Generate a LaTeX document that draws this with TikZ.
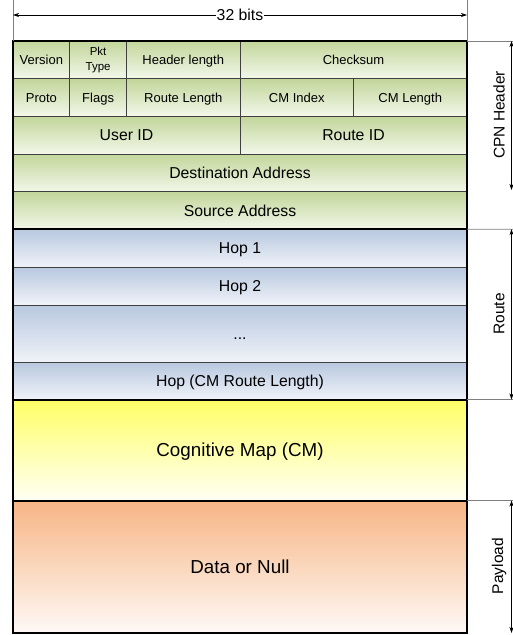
\documentclass[tikz,border=0pt]{standalone}
\usepackage{fontspec}
\setmainfont{Liberation Sans}
\usetikzlibrary{arrows.meta}
\definecolor{hdrtop}{HTML}{C2D69A}
\definecolor{hdrbot}{HTML}{F3F7EA}
\definecolor{rtetop}{HTML}{B8C8DF}
\definecolor{rtebot}{HTML}{F0F3F9}
\definecolor{cmtop}{HTML}{FFFF66}
\definecolor{cmbot}{HTML}{FFFFF4}
\definecolor{paytop}{HTML}{F7B584}
\definecolor{paybot}{HTML}{FEF9F6}
\definecolor{brk}{HTML}{7F7F7F}
% one field of the packet: name, style, left x, top y, width, height, text
\newcommand\pktfield[7]{%
  \node[#2, minimum width=#5pt, minimum height=#6pt] (#1) at (#3,#4) {#7};}
\begin{document}
\begin{tikzpicture}[x=1pt,y=-1pt,
  cell/.style={draw=black!75, line width=0.7pt, inner sep=0pt, outer sep=0pt,
               anchor=north west, align=center},
  hdr/.style={cell, top color=hdrtop, bottom color=hdrbot},
  rte/.style={cell, top color=rtetop, bottom color=rtebot},
  cmap/.style={cell, top color=cmtop, bottom color=cmbot},
  pay/.style={cell, top color=paytop, bottom color=paybot},
  small/.style={text height=9.3pt, text depth=0pt, font=\fontsize{13}{15}\selectfont},
  tiny/.style={font=\fontsize{11.5}{15.5}\selectfont},
  mid/.style={text height=11.3pt, text depth=0pt, font=\fontsize{15.8}{18}\selectfont},
  big/.style={text height=13.5pt, text depth=0pt, font=\fontsize{18.8}{22}\selectfont},
  group/.style={draw=black, line width=2pt},
  guide/.style={draw=brk, line width=0.8pt},
  span/.style={draw=black, line width=0.7pt, {Stealth[length=6pt,width=4pt]}-{Stealth[length=6pt,width=4pt]}},
  side/.style={rotate=90, font=\fontsize{15.5}{18}\selectfont}
]
\useasboundingbox (0,0) rectangle (513,635);

% header rows (one bit = 14.1875pt)
\pktfield{ver}{hdr,small}{13}{41}{56.75}{37.6}{Version}
\pktfield{pkt}{hdr,tiny}{69.75}{41}{56.75}{37.6}{Pkt\\Type}
\pktfield{hlen}{hdr,small}{126.5}{41}{113.5}{37.6}{Header length}
\pktfield{chk}{hdr,small}{240}{41}{227}{37.6}{Checksum}

\pktfield{proto}{hdr,small}{13}{78.6}{56.75}{37.8}{Proto}
\pktfield{flags}{hdr,small}{69.75}{78.6}{56.75}{37.8}{Flags}
\pktfield{rlen}{hdr,small}{126.5}{78.6}{113.5}{37.8}{Route Length}
\pktfield{cmidx}{hdr,small}{240}{78.6}{113.5}{37.8}{CM Index}
\pktfield{cmlen}{hdr,small}{353.5}{78.6}{113.5}{37.8}{CM Length}

\pktfield{uid}{hdr,mid}{13}{116.4}{227}{37.6}{User ID}
\pktfield{rid}{hdr,mid}{240}{116.4}{227}{37.6}{Route ID}
\pktfield{dst}{hdr,mid}{13}{154}{454}{37.6}{Destination Address}
\pktfield{src}{hdr,mid}{13}{191.6}{454}{37.6}{Source Address}

% route hops
\pktfield{hop1}{rte,mid}{13}{229.2}{454}{38.2}{Hop 1}
\pktfield{hop2}{rte,mid}{13}{267.4}{454}{37.6}{Hop 2}
\pktfield{dots}{rte,mid}{13}{305}{454}{57}{...}
\pktfield{hopn}{rte,mid}{13}{362}{454}{37.5}{Hop (CM Route Length)}

% cognitive map and payload
\pktfield{cm}{cmap,big}{13}{399.5}{454}{101}{Cognitive Map (CM)}
\pktfield{data}{pay,big}{13}{500.5}{454}{132.5}{Data or Null}

% heavy outlines round each section
\draw[group] (ver.north west) rectangle (src.south east);
\draw[group] (hop1.north west) rectangle (hopn.south east);
\draw[group] (cm.north west) rectangle (cm.south east);
\draw[group] (data.north west) rectangle (data.south east);

% word width
\coordinate (wl) at (13,0);
\coordinate (wr) at (467,0);
\coordinate (al) at (13,15);
\coordinate (ar) at (467,15);
\draw[guide] (wl) -- (ver.north west);
\draw[guide] (wr) -- (chk.north east);
\draw[span] (al) -- node[fill=white, inner sep=1pt, font=\fontsize{15.8}{18}\selectfont] (bits) {32 bits} (ar);

% section brackets on the right
\coordinate (g1) at (513,41);
\coordinate (g2) at (513,229.2);
\coordinate (g3) at (513,399.5);
\coordinate (g4) at (513,500.5);
\draw[guide] (chk.north east) -- (g1);
\draw[guide] (src.south east) -- (g2);
\draw[guide] (hopn.south east) -- (g3);
\draw[guide] (data.north east) -- (g4);

\coordinate (h1) at (511.5,41);
\coordinate (h2) at (511.5,190);
\coordinate (r1) at (511.5,229.2);
\coordinate (r2) at (511.5,399.5);
\coordinate (p1) at (511.5,500.5);
\coordinate (p2) at (511.5,633);
\draw[span] (h1) -- (h2);
\draw[span] (r1) -- (r2);
\draw[span] (p1) -- (p2);

\node[side] (lhdr) at (499,115) {CPN Header};
\node[side] (lrte) at (499,314) {Route};
\node[side] (lpay) at (499,566) {Payload};
\end{tikzpicture}
\end{document}
